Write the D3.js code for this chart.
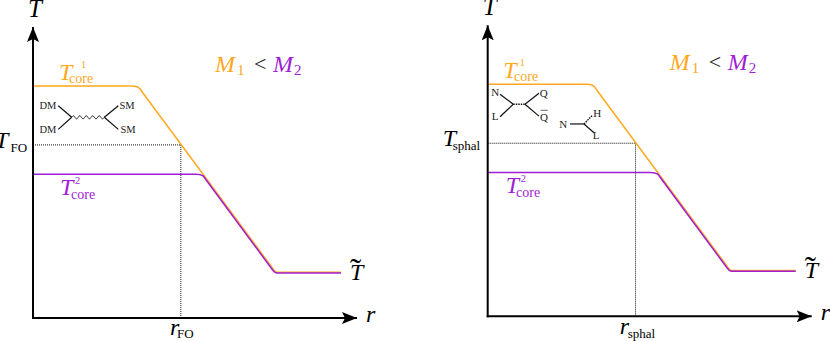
<!DOCTYPE html>
<html lang="en">

<head>
   <meta charset="utf-8">
   <script src="https://d3js.org/d3.v7.min.js"></script>
   <title>Core temperature profiles</title>
   <style>
      html, body { margin: 0; padding: 0; background: #fff; }
      svg { display: block; }
      text { font-family: "Liberation Serif", serif; }
   </style>
</head>

<body>
   <div id="chart"></div>

   <script type="text/javascript">

      // Temperature profiles, arbitrary units
      var coreHeavy = [[0, 10], [3.25, 10], [3.38, 9.97], [3.47, 9.89], [3.57, 9.70], [7.82, 2.07], [7.88, 1.99], [7.94, 1.975], [10, 1.975]];
      var coreLight = [[0, 6.2], [5.29, 6.2], [5.42, 6.18], [5.53, 6.12], [5.61, 5.97], [7.78, 2.07], [7.84, 1.98], [7.91, 1.94], [10, 1.94]];
      var freezeOut = { r: 4.8, T: 7.46 };
      var sphaleron = { r: 4.8, T: 7.46 };

      // Feynman diagram strokes, same units
      var dmLegs = [
         [[0.82, 9.15], [1.257, 8.65]],
         [[0.82, 8.13], [1.257, 8.65]],
         [[2.77, 9.15], [2.315, 8.65]],
         [[2.77, 8.13], [2.315, 8.65]]
      ];
      var dmWiggle = [[1.257, 8.65], [1.31, 8.72], [1.415, 8.58], [1.52, 8.72], [1.625, 8.58], [1.73, 8.72],
         [1.835, 8.58], [1.94, 8.72], [2.045, 8.58], [2.15, 8.72], [2.255, 8.58], [2.315, 8.65]];
      var nlLegs = [
         [[0.40, 9.57], [0.83, 9.14]],
         [[0.40, 8.60], [0.83, 9.14]],
         [[1.665, 9.61], [1.21, 9.14]],
         [[1.665, 8.63], [1.21, 9.14]],
         [[2.67, 8.29], [3.127, 8.29]],
         [[3.127, 8.29], [3.45, 7.91]]
      ];
      var nlDashed = [
         [[0.83, 9.14], [1.21, 9.14]],
         [[3.127, 8.29], [3.41, 8.68]]
      ];

      var orange = "#ffa81e";
      var purple = "#a01fd6";
      var ink = "#222";

      var width = 830, height = 341;
      var panelW = 308, panelH = 232;

      var svg = d3.select("#chart")
         .append("svg")
         .attr("width", width)
         .attr("height", height);

      var defs = svg.append("defs");
      defs.append("marker")
         .attr("id", "arrow")
         .attr("viewBox", "0 0 15 12")
         .attr("refX", 15)
         .attr("refY", 6)
         .attr("markerUnits", "userSpaceOnUse")
         .attr("markerWidth", 15)
         .attr("markerHeight", 12)
         .attr("orient", "auto")
         .append("path")
         .attr("d", "M0,0L15,6L0,12L3,6Z")
         .attr("fill", "#000");

      // Draws one panel. x0, y0 is the axis corner in pixels
      function drawPanel(x0, y0, opts) {
         var x = d3.scaleLinear().domain([0, 10]).range([x0, x0 + panelW]);
         var y = d3.scaleLinear().domain([0, 10]).range([y0, y0 - panelH]);
         var g = svg.append("g");

         var straight = d3.line().x(d => x(d[0])).y(d => y(d[1]));

         // Guides
         g.append("path")
            .attr("d", straight([[0, opts.mark.T], [opts.mark.r, opts.mark.T], [opts.mark.r, 0]]))
            .attr("fill", "none")
            .attr("stroke", "#111")
            .attr("stroke-width", 1)
            .attr("stroke-dasharray", "1 1");

         // Curves
         g.append("path")
            .attr("d", straight(coreHeavy))
            .attr("fill", "none")
            .attr("stroke", orange)
            .attr("stroke-width", 1.5)
            .attr("stroke-linejoin", "round");
         g.append("path")
            .attr("d", straight(coreLight))
            .attr("fill", "none")
            .attr("stroke", purple)
            .attr("stroke-width", 1.5)
            .attr("stroke-linejoin", "round");

         // Axes
         g.append("line")
            .attr("x1", x0).attr("y1", y0 + 1)
            .attr("x2", x0).attr("y2", y0 - 291)
            .attr("stroke", "#000").attr("stroke-width", 2)
            .attr("marker-end", "url(#arrow)");
         g.append("line")
            .attr("x1", x0 - 1).attr("y1", y0)
            .attr("x2", x0 + 324).attr("y2", y0)
            .attr("stroke", "#000").attr("stroke-width", 2)
            .attr("marker-end", "url(#arrow)");

         // Feynman diagrams
         opts.solid.forEach(function (s) {
            g.append("path").attr("d", straight(s)).attr("fill", "none").attr("stroke", "#111").attr("stroke-width", 1.2);
         });
         (opts.dashed || []).forEach(function (s) {
            g.append("path").attr("d", straight(s)).attr("fill", "none").attr("stroke", "#111").attr("stroke-width", 1.4).attr("stroke-dasharray", "1.5 1");
         });
         if (opts.wiggle) {
            g.append("path")
               .attr("d", d3.line().x(d => x(d[0])).y(d => y(d[1])).curve(d3.curveCatmullRom)(opts.wiggle))
               .attr("fill", "none").attr("stroke", "#111").attr("stroke-width", 0.9);
         }

         opts.labels.forEach(function (l) {
            g.append("text")
               .attr("x", x0 + l.x)
               .attr("y", y0 + l.y)
               .attr("font-size", l.size + "px")
               .attr("fill", l.color || "#000")
               .attr("text-anchor", l.anchor || "start")
               .attr("font-style", l.italic ? "italic" : "normal")
               .text(l.text);
         });
         // bar over Q
         if (opts.bar) {
            g.append("line")
               .attr("x1", x0 + opts.bar[0]).attr("x2", x0 + opts.bar[1])
               .attr("y1", y0 + opts.bar[2]).attr("y2", y0 + opts.bar[2])
               .attr("stroke", ink).attr("stroke-width", 0.7);
         }
      }

      // Labels both panels have in the same spot
      function sharedLabels() {
         return [
            { text: "T", x: -5, y: -301, size: 25, italic: true },
            { text: "M", x: 182, y: -246, size: 24, italic: true, color: orange },
            { text: "1", x: 204, y: -243, size: 15, color: orange },
            { text: "<", x: 221, y: -247, size: 22, color: ink },
            { text: "M", x: 240, y: -246, size: 24, italic: true, color: purple },
            { text: "2", x: 261, y: -243, size: 15, color: purple },
            { text: "r", x: 333, y: 4, size: 24, italic: true },
            { text: "T", x: 317, y: -38, size: 24, italic: true },
            { text: "\u02DC", x: 317, y: -36, size: 34 }
         ];
      }

      drawPanel(33, 318, {
         mark: freezeOut,
         solid: dmLegs,
         wiggle: dmWiggle,
         labels: sharedLabels().concat([
            { text: "T", x: 26, y: -238, size: 24, italic: true, color: orange },
            { text: "core", x: 36, y: -235, size: 14, color: orange },
            { text: "1", x: 48, y: -250, size: 10.5, color: orange },
            { text: "T", x: 27, y: -123, size: 24, italic: true, color: purple },
            { text: "core", x: 38, y: -119, size: 14, color: purple },
            { text: "2", x: 42, y: -134, size: 10.5, color: purple },
            { text: "DM", x: 15, y: -209, size: 10.5, anchor: "middle", color: ink },
            { text: "DM", x: 15, y: -185, size: 10.5, anchor: "middle", color: ink },
            { text: "SM", x: 94, y: -209, size: 10.5, anchor: "middle", color: ink },
            { text: "SM", x: 95, y: -185, size: 10.5, anchor: "middle", color: ink },
            { text: "T", x: -38, y: -170, size: 24, italic: true },
            { text: "FO", x: -22.5, y: -166, size: 13 },
            { text: "r", x: 137, y: 17, size: 24, italic: true },
            { text: "FO", x: 144, y: 20, size: 13 }
         ])
      });

      drawPanel(487.7, 316.3, {
         mark: sphaleron,
         solid: nlLegs,
         dashed: nlDashed,
         bar: [53, 60, -206],
         labels: sharedLabels().concat([
            { text: "T", x: 15.5, y: -238, size: 24, italic: true, color: orange },
            { text: "core", x: 26.3, y: -235, size: 14, color: orange },
            { text: "1", x: 32, y: -250, size: 10.5, color: orange },
            { text: "T", x: 18, y: -123.6, size: 24, italic: true, color: purple },
            { text: "core", x: 28.3, y: -119.6, size: 14, color: purple },
            { text: "2", x: 33, y: -134, size: 10.5, color: purple },
            { text: "N", x: 7.5, y: -220, size: 11, anchor: "middle", color: ink },
            { text: "L", x: 7.5, y: -196, size: 11, anchor: "middle", color: ink },
            { text: "Q", x: 56, y: -219.6, size: 11, anchor: "middle", color: ink },
            { text: "Q", x: 56.3, y: -195.6, size: 11, anchor: "middle", color: ink },
            { text: "N", x: 75.5, y: -188, size: 11, anchor: "middle", color: ink },
            { text: "H", x: 109.5, y: -199, size: 11, anchor: "middle", color: ink },
            { text: "L", x: 108.5, y: -177, size: 11, anchor: "middle", color: ink },
            { text: "T", x: -45, y: -170, size: 24, italic: true },
            { text: "sphal", x: -35, y: -166, size: 13 },
            { text: "r", x: 132, y: 18, size: 24, italic: true },
            { text: "sphal", x: 140, y: 22, size: 13 }
         ])
      });

   </script>
</body>

</html>
